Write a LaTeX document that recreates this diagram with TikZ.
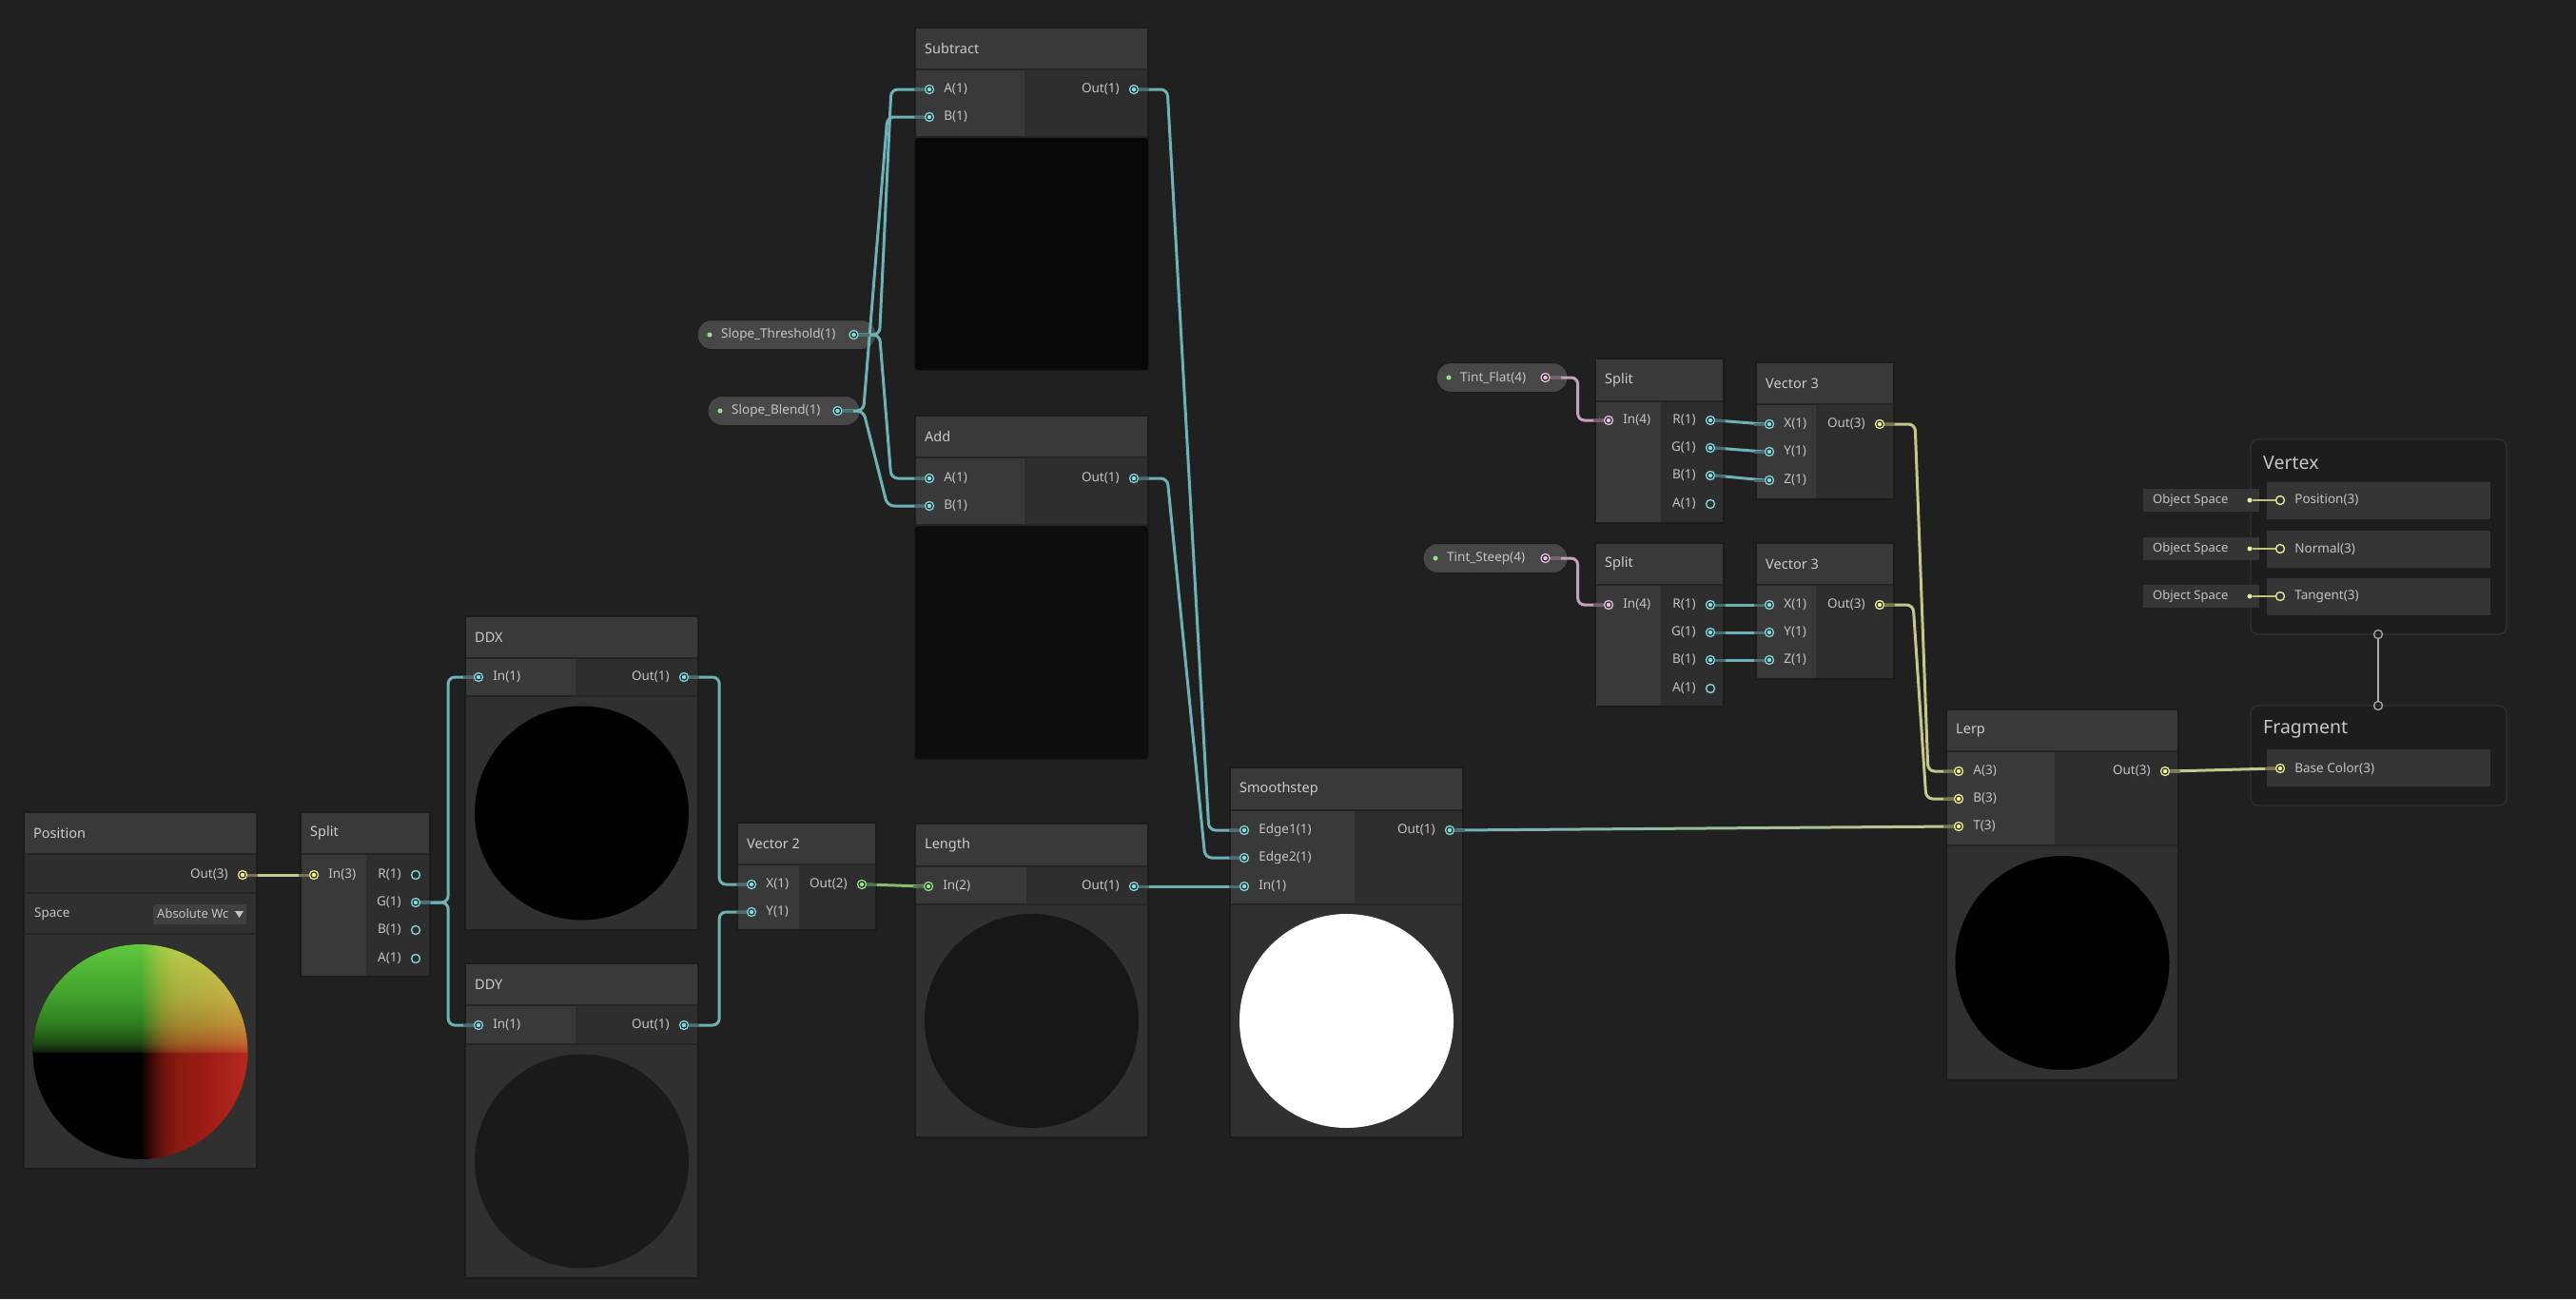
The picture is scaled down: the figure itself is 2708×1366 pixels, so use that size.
\documentclass[tikz,border=0pt]{standalone}
\usepackage{fontspec}
\setmainfont{Noto Sans}
\usepackage{tikz}
\usetikzlibrary{positioning,calc}
\definecolor{bg}{RGB}{32,32,32}
\definecolor{headc}{RGB}{57,57,57}
\definecolor{inc}{RGB}{57,57,57}
\definecolor{outc}{RGB}{46,46,46}
\definecolor{prevc}{RGB}{48,48,48}
\definecolor{sepc}{RGB}{36,36,36}
\definecolor{edgec}{RGB}{27,27,27}
\definecolor{lblc}{RGB}{196,196,196}
\definecolor{titlec}{RGB}{204,204,204}
\definecolor{c1}{RGB}{132,218,222}
\definecolor{w1c}{RGB}{110,178,182}
\definecolor{g2}{RGB}{150,225,140}
\definecolor{w2c}{RGB}{130,190,110}
\definecolor{y3}{RGB}{240,240,150}
\definecolor{w3c}{RGB}{196,198,138}
\definecolor{p4}{RGB}{232,190,226}
\definecolor{w4c}{RGB}{196,160,190}
\definecolor{pillc}{RGB}{71,71,71}
\definecolor{slotc}{RGB}{53,53,53}
\definecolor{masterc}{RGB}{29,29,29}
\definecolor{masterb}{RGB}{50,50,50}
\definecolor{ddyp}{RGB}{26,26,26}
\definecolor{lenp}{RGB}{23,23,23}
\definecolor{subp}{RGB}{8,8,8}
\definecolor{addp}{RGB}{13,13,13}
\definecolor{dropc}{RGB}{64,64,64}
\definecolor{linkc}{RGB}{170,170,170}
\definecolor{ga}{RGB}{12,32,8}
\definecolor{gb}{RGB}{30,74,18}
\definecolor{gc}{RGB}{46,122,30}
\definecolor{gd}{RGB}{63,160,44}
\definecolor{ge}{RGB}{95,200,60}
\definecolor{ra}{RGB}{58,8,5}
\definecolor{rb}{RGB}{106,18,12}
\definecolor{rc}{RGB}{138,26,18}
\definecolor{rd}{RGB}{160,30,22}
\definecolor{re}{RGB}{182,40,30}
\pgfdeclareverticalshading{greenramp}{100bp}{color(0bp)=(ga); color(25bp)=(ga); color(29bp)=(gb);
  color(37.5bp)=(gc); color(50bp)=(gd); color(75bp)=(ge); color(100bp)=(ge)}
\pgfdeclarehorizontalshading{redramp}{100bp}{color(0bp)=(black); color(25bp)=(black); color(30bp)=(ra);
  color(35bp)=(rb); color(41.5bp)=(rc); color(58bp)=(rd); color(75bp)=(re); color(100bp)=(re)}
\tikzset{
  title/.style={font=\fontsize{14.5}{17}\selectfont, text=titlec, inner sep=0},
  mtitle/.style={font=\fontsize{19.5}{23}\selectfont, text=titlec!110, inner sep=0},
  lbl/.style={font=\fontsize{13.5}{16}\selectfont, text=lblc, inner sep=0},
  portc/.style={circle, inner sep=0, minimum size=9, line width=1.3, draw=#1, fill=bg,
    path picture={\fill[#1] (path picture bounding box.center) circle (2.3);}},
  porto/.style={circle, inner sep=0, minimum size=9, line width=1.3, draw=#1},
  dotn/.style={circle, inner sep=0, minimum size=5, fill=#1},
  stub/.style={line width=3, draw=#1!42!bg},
  pill/.style={fill=pillc, draw=edgec, line width=1, rounded corners=15},
  slot/.style={fill=slotc},
  master/.style={fill=masterc, draw=masterb, line width=1.2, rounded corners=8},
  wire/.style={line width=3, rounded corners=7},
  w1/.style={wire, draw=w1c},
  w2/.style={wire, draw=w2c},
  w3/.style={wire, draw=w3c},
  w4/.style={wire, draw=w4c}
}
\begin{document}
\begin{tikzpicture}[x=1pt, y=-1pt]
  \useasboundingbox (0,0) rectangle (2708,1366);
  \fill[bg] (0,0) rectangle (2708,1366);
  % node bodies: name/title/left/top/right/bottom/header bottom/column split/ports bottom
  \foreach \nm/\ttl/\xa/\ya/\xb/\yb/\yh/\xc/\yp in {
      pos/Position/25/854/270/1229/898/25/939,
      splitA/Split/316/854/452/1027/898/385/1027,
      ddx/DDX/489/648/734/978/692/605/732,
      ddy/DDY/489/1013/734/1344/1057/605/1098,
      vecb/Vector 2/775/865/921/978/909/840/978,
      sub/Subtract/962/29/1207/389/73/1077/144,
      add/Add/962/437/1207/798/481/1077/552,
      len/Length/962/866/1207/1196/911/1079/951,
      smooth/Smoothstep/1293/807/1538/1196/852/1424/951,
      lerp/Lerp/2046/746/2290/1136/790/2160/889,
      splitB/Split/1677/377/1812/550/422/1746/550,
      vecc/Vector 3/1846/381/1991/525/425/1909/525,
      splitC/Split/1677/571/1812/743/615/1746/743,
      vecd/Vector 3/1846/571/1991/714/615/1909/714}
  {
    \fill[prevc] (\xa,\ya) rectangle (\xb,\yb);
    \fill[outc] (\xc,\yh) rectangle (\xb,\yp);
    \fill[inc] (\xa,\yh) rectangle (\xc,\yp);
    \fill[headc] (\xa,\ya) rectangle (\xb,\yh);
    \draw[sepc, line width=2] (\xa,\yh) -- (\xb,\yh) (\xa,\yp) -- (\xb,\yp);
    \draw[edgec, line width=1.2] (\xa,\ya) rectangle (\xb,\yb);
    \node[title, anchor=west] (\nm) at (\xa+10,{(\ya+\yh)/2}) {\ttl};
  }
  % Position node: space row and preview
  \draw[sepc, line width=2] (25,982) -- (270,982);
  \node[lbl, anchor=west] (space) at (36,961) {Space};
  \fill[dropc, rounded corners=2] (161,951) rectangle (259,972);
  \node[lbl, anchor=west, font=\fontsize{13}{15}\selectfont] (spacedrop) at (165,961) {Absolute Wc};
  \fill[lblc] (247,958) -- (256,958) -- (251.5,965) -- cycle;
  \begin{scope}
    \clip (147.5,1106) circle (113);
    \fill[black] (34,992) rectangle (261,1220);
    \shade[shading=greenramp] (34,992) rectangle (261,1106);
    \begin{scope}[blend mode=screen]
      \shade[shading=redramp] (147.5,992) rectangle (261,1220);
    \end{scope}
  \end{scope}
  % previews
  \foreach \cx/\cy/\cc in {611.5/855/black, 611.5/1221/ddyp, 1084.5/1073.5/lenp, 1415.5/1073.5/white, 2168/1012.5/black}
    \fill[\cc] (\cx,\cy) circle (112.5);
  \fill[subp, rounded corners=3] (962,145) rectangle (1207,389);
  \fill[addp, rounded corners=3] (962,553) rectangle (1207,798);
  % input ports
  \foreach \nm/\px/\py/\pc/\txt in {
      splitAin/330/920/y3/In(3), ddxin/503/712/c1/In(1), ddyin/503/1078/c1/In(1),
      vecbx/790/930/c1/X(1), vecby/790/959/c1/Y(1),
      suba/977/94/c1/A(1), subb/977/123/c1/B(1), adda/977/503/c1/A(1), addb/977/532/c1/B(1),
      lenin/976/932/g2/In(2), ssa/1308/873/c1/Edge1(1), ssb/1308/902/c1/Edge2(1), ssin/1308/932/c1/In(1),
      lerpa/2059/811/y3/A(3), lerpb/2059/840/y3/B(3), lerpt/2059/869/y3/T(3),
      splitBin/1691/442/p4/In(4), veccx/1860/446/c1/X(1), veccy/1860/475/c1/Y(1), veccz/1860/505/c1/Z(1),
      splitCin/1691/636/p4/In(4), vecdx/1860/636/c1/X(1), vecdy/1860/665/c1/Y(1), vecdz/1860/694/c1/Z(1)}
  {
    \node[portc=\pc] (\nm) at (\px,\py) {};
    \node[lbl, right=10pt of \nm] (\nm-l) {\txt};
  }
  % output ports
  \foreach \nm/\px/\py/\pc/\txt in {
      posout/255/920/y3/Out(3), splitAg/437/949/c1/G(1),
      ddxout/719/712/c1/Out(1), ddyout/719/1078/c1/Out(1), vecbout/906/930/g2/Out(2),
      subout/1192/94/c1/Out(1), addout/1192/503/c1/Out(1), lenout/1192/932/c1/Out(1),
      ssout/1524/873/c1/Out(1), lerpout/2276/811/y3/Out(3),
      splitBr/1798/442/c1/R(1), splitBg/1798/471/c1/G(1), splitBb/1798/500/c1/B(1), veccout/1976/446/y3/Out(3),
      splitCr/1798/636/c1/R(1), splitCg/1798/665/c1/G(1), splitCb/1798/694/c1/B(1), vecdout/1976/636/y3/Out(3)}
  {
    \node[portc=\pc] (\nm) at (\px,\py) {};
    \node[lbl, left=10pt of \nm] (\nm-l) {\txt};
  }
  % unconnected outputs
  \foreach \nm/\px/\py/\txt in {splitAr/437/920/R(1), splitAb/437/978/B(1), splitAa/437/1008/A(1),
      splitBa/1798/530/A(1), splitCa/1798/724/A(1)}
  {
    \node[porto=c1] (\nm) at (\px,\py) {};
    \node[lbl, left=10pt of \nm] (\nm-l) {\txt};
  }
  % properties
  \foreach \nm/\xa/\xb/\py/\pc/\txt in {
      thr/733/921/352/c1/Slope\_Threshold(1), blend/744/904/432/c1/Slope\_Blend(1),
      tflat/1510/1648/397/p4/Tint\_Flat(4), tsteep/1496/1648/587/p4/Tint\_Steep(4)}
  {
    \path[pill] (\xa,\py-15.5) rectangle (\xb,\py+15.5);
    \node[dotn=g2] (\nm-d) at (\xa+13,\py) {};
    \node[lbl, anchor=west] (\nm-l) at (\xa+25,\py) {\txt};
    \node[portc=\pc] (\nm) at (\xb-23.5,\py) {};
  }
  % master stack
  \path[master] (2366,462) rectangle (2635,667);
  \node[mtitle, anchor=west] (vertex) at (2379,487) {Vertex};
  \foreach \nm/\py/\txt in {vpos/526/Position(3), vnorm/577/Normal(3), vtan/627/Tangent(3)}
  {
    \fill[slot] (2383,\py-19.5) rectangle (2618,\py+19.5);
    \fill[slot] (2253,\py-12) rectangle (2375,\py+12);
    \node[lbl, anchor=west, font=\fontsize{13}{15}\selectfont] (\nm-s) at (2263,\py) {Object Space};
    \node[dotn=y3] (\nm-d) at (2365,\py) {};
    \node[porto=y3] (\nm) at (2397,\py) {};
    \draw[y3!80!black, line width=2.5] (\nm-d.east) -- (\nm.west);
    \node[lbl, right=10pt of \nm] (\nm-l) {\txt};
  }
  \path[master] (2366,742) rectangle (2635,847);
  \node[mtitle, anchor=west] (fragment) at (2379,767) {Fragment};
  \fill[slot] (2383,788) rectangle (2618,827);
  \node[portc=y3] (basec) at (2397,808) {};
  \node[lbl, right=10pt of basec] (basec-l) {Base Color(3)};
  \node[porto=linkc] (vout) at (2500,667) {};
  \node[porto=linkc] (fin) at (2500,742) {};
  \draw[linkc, line width=1.6] (vout.south) -- (fin.north);
  % wires
  \draw[w3] (posout.east) -- (splitAin.west);
  \draw[w1] (splitAg.east) -- ++(29,0) |- (ddxin.west);
  \draw[w1] (splitAg.east) -- ++(29,0) |- (ddyin.west);
  \draw[w1] (ddxout.east) -- ++(32,0) |- (vecbx.west);
  \draw[w1] (ddyout.east) -- ++(32,0) |- (vecby.west);
  \draw[w2] (vecbout.east) -- (lenin.west);
  \draw[w1] (lenout.east) -- (ssin.west);
  \draw[w1] (thr.east) -- ++(22,0) -- ($(suba.west)+(-35,0)$) -- (suba.west);
  \draw[w1] (thr.east) -- ++(22,0) -- ($(adda.west)+(-35,0)$) -- (adda.west);
  \draw[w1] (blend.east) -- ++(22,0) -- ($(subb.west)+(-39,0)$) -- (subb.west);
  \draw[w1] (blend.east) -- ++(22,0) -- ($(addb.west)+(-39,0)$) -- (addb.west);
  \draw[w1] (subout.east) -- ++(30,0) -- ($(ssa.west)+(-32,0)$) -- (ssa.west);
  \draw[w1] (addout.east) -- ++(30,0) -- ($(ssb.west)+(-36,0)$) -- (ssb.west);
  \shade[left color=w1c, right color=w3c] ($(ssout.east)+(0,-1.5)$) -- ($(lerpt.west)+(0,-1.5)$)
    -- ($(lerpt.west)+(0,1.5)$) -- ($(ssout.east)+(0,1.5)$) -- cycle;
  \draw[w4] (tflat.east) -- ++(29,0) |- (splitBin.west);
  \draw[w4] (tsteep.east) -- ++(29,0) |- (splitCin.west);
  \foreach \a/\b in {splitBr/veccx, splitBg/veccy, splitBb/veccz, splitCr/vecdx, splitCg/vecdy, splitCb/vecdz}
    \draw[w1] (\a.east) -- (\b.west);
  \draw[w3] (veccout.east) -- ++(32,0) -- ($(lerpa.west)+(-27,0)$) -- (lerpa.west);
  \draw[w3] (vecdout.east) -- ++(30,0) -- ($(lerpb.west)+(-29,0)$) -- (lerpb.west);
  \draw[w3] (lerpout.east) -- (basec.west);
  % dim wire ends at the ports
  \foreach \nm/\pc in {splitAin/y3, ddxin/c1, ddyin/c1, vecbx/c1, vecby/c1, suba/c1, subb/c1, adda/c1, addb/c1,
      lenin/g2, ssa/c1, ssb/c1, ssin/c1, lerpa/y3, lerpb/y3, lerpt/y3, splitBin/p4, veccx/c1, veccy/c1, veccz/c1,
      splitCin/p4, vecdx/c1, vecdy/c1, vecdz/c1, basec/y3}
    \draw[stub=\pc] (\nm.west) -- ++(-11,0);
  \foreach \nm/\pc in {posout/y3, splitAg/c1, ddxout/c1, ddyout/c1, vecbout/g2, subout/c1, addout/c1, lenout/c1,
      ssout/c1, lerpout/y3, splitBr/c1, splitBg/c1, splitBb/c1, veccout/y3, splitCr/c1, splitCg/c1, splitCb/c1,
      vecdout/y3, thr/c1, blend/c1, tflat/p4, tsteep/p4}
    \draw[stub=\pc] (\nm.east) -- ++(11,0);
\end{tikzpicture}
\end{document}
